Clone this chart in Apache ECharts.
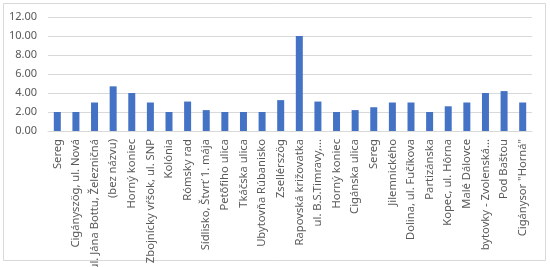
<!DOCTYPE html>
<html>
<head>
<meta charset="utf-8">
<script src="https://cdn.jsdelivr.net/npm/echarts@6/dist/echarts.min.js"></script>
<style>
html,body{margin:0;padding:0;background:#fff;}
#c{width:550px;height:267px;}
</style>
</head>
<body>
<div id="c"></div>
<script>
const categories = [
  "Sereg",
  "Cigányszög, ul. Nová",
  "ul. Jána Bottu, Železničná",
  "(bez názvu)",
  "Horný koniec",
  "Zbojnícky vŕšok, ul. SNP",
  "Kolónia",
  "Rómsky rad",
  "Sídlisko, Štvrť 1. mája",
  "Petőfiho ulica",
  "Tkáčska ulica",
  "Ubytovňa Rúbanisko",
  "Zsellérszög",
  "Rapovská križovatka",
  "ul. B.S.Timravy,...",
  "Horný koniec",
  "Cigánska ulica",
  "Sereg",
  "Jilemnického",
  "Dolina, ul. Fučíkova",
  "Partizánska",
  "Kopec, ul. Hôrna",
  "Malé Dálovce",
  "bytovky - Zvolenská...",
  "Pod Baštou",
  "Cigánysor \"Horná\""
];
const values = [2.0, 2.0, 3.0, 4.7, 4.0, 3.0, 2.0, 3.1, 2.2, 2.0, 2.0, 2.0, 3.25, 10.0, 3.1, 2.0, 2.2, 2.5, 3.0, 3.0, 2.0, 2.6, 3.0, 4.0, 4.2, 3.0];
const yTicks = { min: 0, max: 12, interval: 2 };

const chart = echarts.init(document.getElementById('c'), null, { renderer: 'canvas' });
chart.setOption({
  animation: false,
  backgroundColor: '#ffffff',
  graphic: [{
    type: 'rect',
    shape: { x: 3.5, y: 3.5, width: 542, height: 257 },
    style: { fill: 'none', stroke: '#d9d9d9', lineWidth: 1 },
    silent: true
  }],
  grid: { left: 48, right: 18, top: 17, bottom: 136, containLabel: false, outerBoundsMode: 'none' },
  xAxis: {
    type: 'category',
    data: categories,
    axisLine: { show: true, lineStyle: { color: '#d9d9d9', width: 1 } },
    axisTick: { show: false },
    axisLabel: {
      interval: 0,
      rotate: 90,
      margin: 8,
      color: '#595959',
      fontSize: 11.2,
      fontFamily: 'Noto Sans'
    }
  },
  yAxis: {
    type: 'value',
    min: yTicks.min,
    max: yTicks.max,
    interval: yTicks.interval,
    axisLine: { show: false },
    axisTick: { show: false },
    splitLine: { lineStyle: { color: '#d9d9d9', width: 1 } },
    axisLabel: {
      margin: 11,
      color: '#595959',
      fontSize: 11,
      fontFamily: 'Noto Sans',
      formatter: v => v.toFixed(2)
    }
  },
  series: [{
    type: 'bar',
    data: values,
    barWidth: 7,
    itemStyle: { color: '#4472c4' }
  }]
});
</script>
</body>
</html>
